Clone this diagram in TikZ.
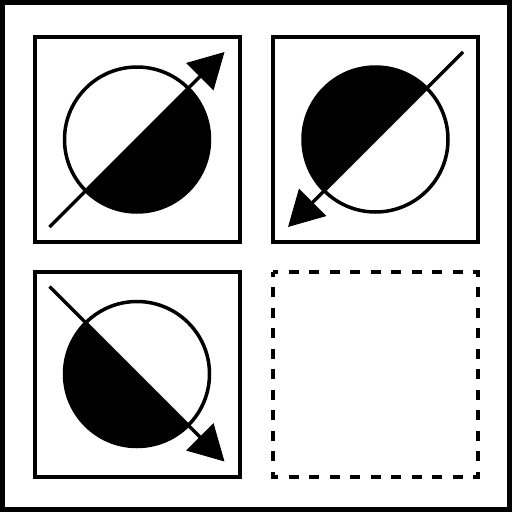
\documentclass[tikz,border=0pt]{standalone}
\usetikzlibrary{arrows.meta,calc}
\begin{document}
\begin{tikzpicture}[x=1pt,y=-1pt,
  panel/.style={line width=4pt},
  emptypanel/.style={line width=4pt,dash pattern=on 10pt off 10.5pt,dash phase=5pt},
  ring/.style={line width=3.5pt},
  pointer/.style={line width=3.5pt,-{Triangle[length=35pt,width=38pt]}}]
\useasboundingbox (0,0) rectangle (512,512);
\draw[line width=5pt] (2.5,2.5) rectangle (509.5,509.5);
% panels
\draw[panel] (34.5,37) rectangle (239.5,242);
\draw[panel] (273,37) rectangle (478,242);
\draw[panel] (34.5,271.5) rectangle (239.5,476.5);
\draw[emptypanel] (273,271.5) rectangle (478,476.5);
% centres
\coordinate (c1) at (137,139.5);
\coordinate (c2) at (375.5,139.5);
\coordinate (c3) at (137,374);
% top-left
\fill (c1) ++(-45:72.5) arc[start angle=-45,end angle=135,radius=72.5] -- cycle;
\draw[ring] (c1) circle[radius=72.5];
\coordinate (a1) at ($(c1)+(-87.5,87.5)$);
\coordinate (b1) at ($(c1)+(87.5,-87.5)$);
\draw[pointer] (a1) -- (b1);
% top-right
\fill (c2) ++(135:72.5) arc[start angle=135,end angle=315,radius=72.5] -- cycle;
\draw[ring] (c2) circle[radius=72.5];
\coordinate (a2) at ($(c2)+(87.5,-87.5)$);
\coordinate (b2) at ($(c2)+(-87.5,87.5)$);
\draw[pointer] (a2) -- (b2);
% bottom-left
\fill (c3) ++(45:72.5) arc[start angle=45,end angle=225,radius=72.5] -- cycle;
\draw[ring] (c3) circle[radius=72.5];
\coordinate (a3) at ($(c3)+(-87.5,-87.5)$);
\coordinate (b3) at ($(c3)+(87.5,87.5)$);
\draw[pointer] (a3) -- (b3);
\end{tikzpicture}
\end{document}
